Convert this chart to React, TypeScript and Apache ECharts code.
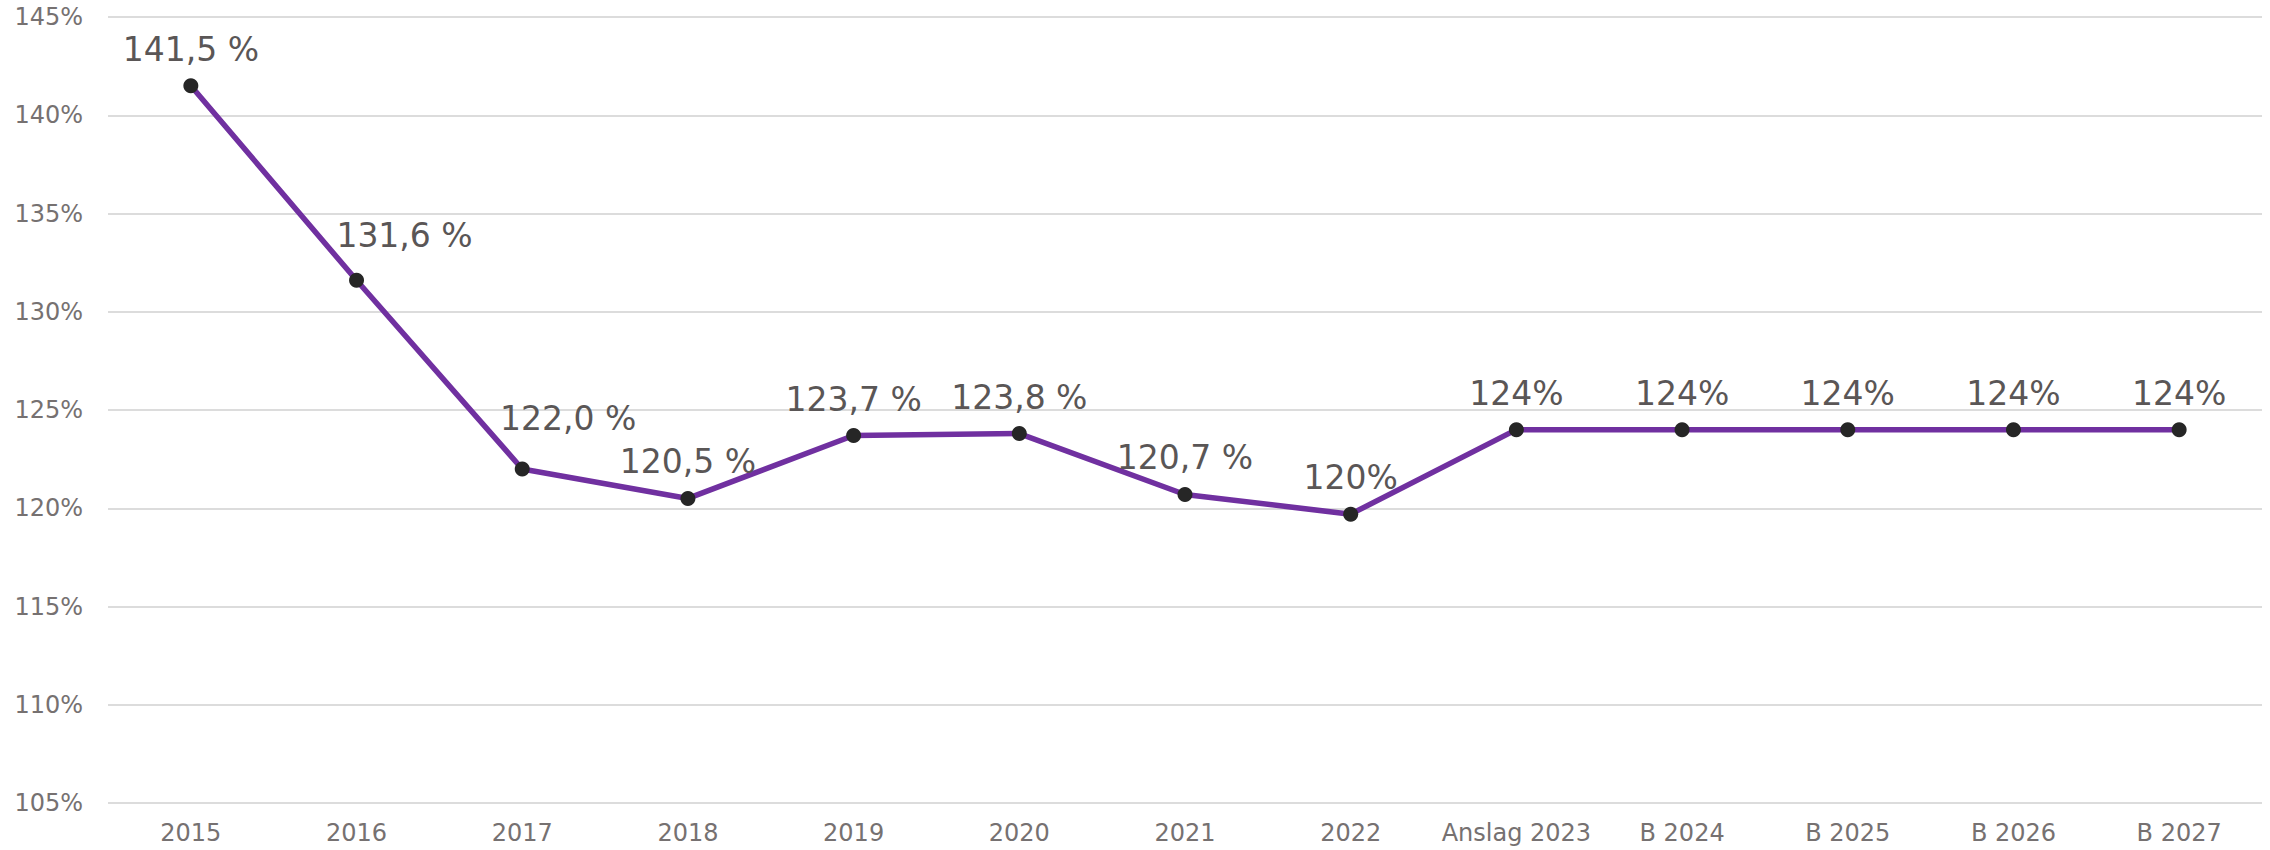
import React, { useEffect, useRef } from "react";
import * as echarts from "echarts";

const categories = ["2015", "2016", "2017", "2018", "2019", "2020", "2021", "2022", "Anslag 2023", "B 2024", "B 2025", "B 2026", "B 2027"];
const values = [141.5, 131.6, 122.0, 120.5, 123.7, 123.8, 120.7, 119.7, 124, 124, 124, 124, 124];
const valueLabels = ["141,5 %", "131,6 %", "122,0 %", "120,5 %", "123,7 %", "123,8 %", "120,7 %", "120%", "124%", "124%", "124%", "124%", "124%"];
const yTicks = { min: 105, max: 145, interval: 5 };

// label offsets (presentation only)
const labelOffsets: Record<number, [number, number]> = {
  1: [48, -8],
  2: [46, -14],
};

export default function App() {
  const ref = useRef<HTMLDivElement>(null);
  useEffect(() => {
    if (!ref.current) return;
    const chart = echarts.init(ref.current, undefined, { renderer: "svg" });
    const font = "DejaVu Sans, Verdana, sans-serif";
    chart.setOption({
      animation: false,
      backgroundColor: "#ffffff",
      grid: { left: 108, right: 8, top: 17, bottom: 47, containLabel: false },
      xAxis: {
        type: "category",
        data: categories,
        boundaryGap: true,
        axisLine: { show: false },
        axisTick: { show: false },
        axisLabel: { color: "#767171", fontSize: 24, fontFamily: font, margin: 18, interval: 0 },
      },
      yAxis: {
        type: "value",
        min: yTicks.min,
        max: yTicks.max,
        interval: yTicks.interval,
        axisLine: { show: false },
        axisTick: { show: false },
        splitLine: { lineStyle: { color: "#dcdcdc", width: 2 } },
        axisLabel: { color: "#767171", fontSize: 24, fontFamily: font, margin: 25, formatter: "{value}%" },
      },
      series: [
        {
          type: "line",
          data: values.map((v, i) => ({
            value: v,
            label: labelOffsets[i] ? { offset: labelOffsets[i] } : undefined,
          })),
          lineStyle: { color: "#7030A0", width: 5.5 },
          itemStyle: { color: "#262626" },
          symbol: "circle",
          symbolSize: 15,
          label: {
            show: true,
            position: "top",
            distance: 12.5,
            color: "#5a5656",
            fontSize: 33,
            fontFamily: font,
            formatter: (p: any) => valueLabels[p.dataIndex],
          },
        },
      ],
    });
    return () => chart.dispose();
  }, []);
  return <div ref={ref} style={{ position: "absolute", left: 0, top: 0, width: 2270, height: 850 }} />;
}
